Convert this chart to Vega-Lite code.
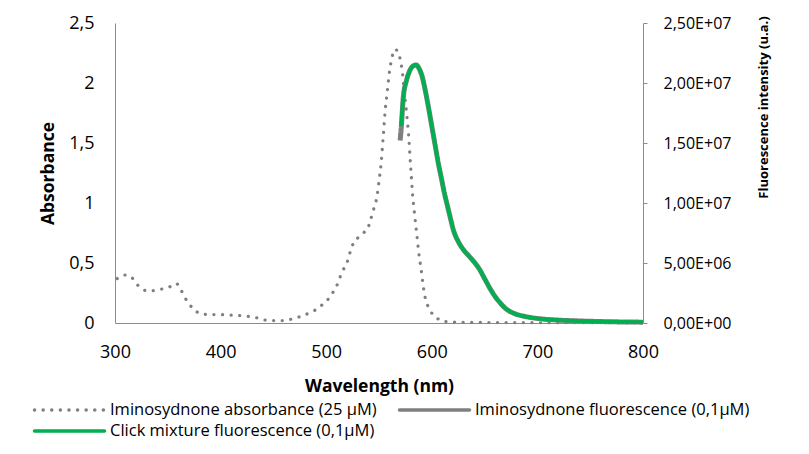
{
  "$schema": "https://vega.github.io/schema/vega-lite/v6.json",
  "width": 528,
  "height": 300,
  "autosize": {"type": "none"},
  "padding": {"left": 115, "top": 23, "right": 166, "bottom": 131},
  "background": "white",
  "config": {
    "view": {"stroke": null},
    "font": "Open Sans",
    "axis": {"grid": false, "domainColor": "#8c8c8c", "labelColor": "#000000", "titleColor": "#000000", "labelFont": "Open Sans", "titleFont": "Open Sans"},
    "legend": {"labelFont": "Open Sans", "labelColor": "#000000"}
  },
  "datasets": {
    "abs": [
      {"series": "Iminosydnone absorbance (25 µM)", "wl": 302, "v": 0.37},
      {"series": "Iminosydnone absorbance (25 µM)", "wl": 306, "v": 0.39},
      {"series": "Iminosydnone absorbance (25 µM)", "wl": 310, "v": 0.40},
      {"series": "Iminosydnone absorbance (25 µM)", "wl": 314, "v": 0.39},
      {"series": "Iminosydnone absorbance (25 µM)", "wl": 318, "v": 0.36},
      {"series": "Iminosydnone absorbance (25 µM)", "wl": 322, "v": 0.31},
      {"series": "Iminosydnone absorbance (25 µM)", "wl": 326, "v": 0.28},
      {"series": "Iminosydnone absorbance (25 µM)", "wl": 330, "v": 0.27},
      {"series": "Iminosydnone absorbance (25 µM)", "wl": 336, "v": 0.27},
      {"series": "Iminosydnone absorbance (25 µM)", "wl": 342, "v": 0.28},
      {"series": "Iminosydnone absorbance (25 µM)", "wl": 348, "v": 0.29},
      {"series": "Iminosydnone absorbance (25 µM)", "wl": 354, "v": 0.31},
      {"series": "Iminosydnone absorbance (25 µM)", "wl": 358, "v": 0.33},
      {"series": "Iminosydnone absorbance (25 µM)", "wl": 361, "v": 0.30},
      {"series": "Iminosydnone absorbance (25 µM)", "wl": 364, "v": 0.25},
      {"series": "Iminosydnone absorbance (25 µM)", "wl": 367, "v": 0.20},
      {"series": "Iminosydnone absorbance (25 µM)", "wl": 370, "v": 0.16},
      {"series": "Iminosydnone absorbance (25 µM)", "wl": 374, "v": 0.12},
      {"series": "Iminosydnone absorbance (25 µM)", "wl": 378, "v": 0.09},
      {"series": "Iminosydnone absorbance (25 µM)", "wl": 382, "v": 0.075},
      {"series": "Iminosydnone absorbance (25 µM)", "wl": 390, "v": 0.07},
      {"series": "Iminosydnone absorbance (25 µM)", "wl": 400, "v": 0.07},
      {"series": "Iminosydnone absorbance (25 µM)", "wl": 410, "v": 0.065},
      {"series": "Iminosydnone absorbance (25 µM)", "wl": 420, "v": 0.06},
      {"series": "Iminosydnone absorbance (25 µM)", "wl": 430, "v": 0.05},
      {"series": "Iminosydnone absorbance (25 µM)", "wl": 436, "v": 0.04},
      {"series": "Iminosydnone absorbance (25 µM)", "wl": 442, "v": 0.025},
      {"series": "Iminosydnone absorbance (25 µM)", "wl": 448, "v": 0.02},
      {"series": "Iminosydnone absorbance (25 µM)", "wl": 455, "v": 0.02},
      {"series": "Iminosydnone absorbance (25 µM)", "wl": 460, "v": 0.02},
      {"series": "Iminosydnone absorbance (25 µM)", "wl": 466, "v": 0.03},
      {"series": "Iminosydnone absorbance (25 µM)", "wl": 472, "v": 0.045},
      {"series": "Iminosydnone absorbance (25 µM)", "wl": 478, "v": 0.06},
      {"series": "Iminosydnone absorbance (25 µM)", "wl": 484, "v": 0.085},
      {"series": "Iminosydnone absorbance (25 µM)", "wl": 490, "v": 0.11},
      {"series": "Iminosydnone absorbance (25 µM)", "wl": 496, "v": 0.15},
      {"series": "Iminosydnone absorbance (25 µM)", "wl": 502, "v": 0.20},
      {"series": "Iminosydnone absorbance (25 µM)", "wl": 506, "v": 0.25},
      {"series": "Iminosydnone absorbance (25 µM)", "wl": 510, "v": 0.31},
      {"series": "Iminosydnone absorbance (25 µM)", "wl": 513, "v": 0.38},
      {"series": "Iminosydnone absorbance (25 µM)", "wl": 516, "v": 0.44},
      {"series": "Iminosydnone absorbance (25 µM)", "wl": 520, "v": 0.51},
      {"series": "Iminosydnone absorbance (25 µM)", "wl": 523, "v": 0.60},
      {"series": "Iminosydnone absorbance (25 µM)", "wl": 526, "v": 0.67},
      {"series": "Iminosydnone absorbance (25 µM)", "wl": 530, "v": 0.71},
      {"series": "Iminosydnone absorbance (25 µM)", "wl": 535, "v": 0.75},
      {"series": "Iminosydnone absorbance (25 µM)", "wl": 539, "v": 0.78},
      {"series": "Iminosydnone absorbance (25 µM)", "wl": 542, "v": 0.86},
      {"series": "Iminosydnone absorbance (25 µM)", "wl": 545, "v": 0.95},
      {"series": "Iminosydnone absorbance (25 µM)", "wl": 548, "v": 1.05},
      {"series": "Iminosydnone absorbance (25 µM)", "wl": 550, "v": 1.18},
      {"series": "Iminosydnone absorbance (25 µM)", "wl": 552, "v": 1.33},
      {"series": "Iminosydnone absorbance (25 µM)", "wl": 554, "v": 1.55},
      {"series": "Iminosydnone absorbance (25 µM)", "wl": 556, "v": 1.78},
      {"series": "Iminosydnone absorbance (25 µM)", "wl": 558, "v": 1.94},
      {"series": "Iminosydnone absorbance (25 µM)", "wl": 560, "v": 2.10},
      {"series": "Iminosydnone absorbance (25 µM)", "wl": 562, "v": 2.20},
      {"series": "Iminosydnone absorbance (25 µM)", "wl": 565, "v": 2.28},
      {"series": "Iminosydnone absorbance (25 µM)", "wl": 568, "v": 2.26},
      {"series": "Iminosydnone absorbance (25 µM)", "wl": 570, "v": 2.20},
      {"series": "Iminosydnone absorbance (25 µM)", "wl": 572, "v": 2.10},
      {"series": "Iminosydnone absorbance (25 µM)", "wl": 574, "v": 1.93},
      {"series": "Iminosydnone absorbance (25 µM)", "wl": 576, "v": 1.76},
      {"series": "Iminosydnone absorbance (25 µM)", "wl": 578, "v": 1.57},
      {"series": "Iminosydnone absorbance (25 µM)", "wl": 580, "v": 1.30},
      {"series": "Iminosydnone absorbance (25 µM)", "wl": 582, "v": 1.05},
      {"series": "Iminosydnone absorbance (25 µM)", "wl": 584, "v": 0.88},
      {"series": "Iminosydnone absorbance (25 µM)", "wl": 586, "v": 0.72},
      {"series": "Iminosydnone absorbance (25 µM)", "wl": 588, "v": 0.56},
      {"series": "Iminosydnone absorbance (25 µM)", "wl": 590, "v": 0.44},
      {"series": "Iminosydnone absorbance (25 µM)", "wl": 592, "v": 0.30},
      {"series": "Iminosydnone absorbance (25 µM)", "wl": 594, "v": 0.20},
      {"series": "Iminosydnone absorbance (25 µM)", "wl": 597, "v": 0.13},
      {"series": "Iminosydnone absorbance (25 µM)", "wl": 601, "v": 0.07},
      {"series": "Iminosydnone absorbance (25 µM)", "wl": 605, "v": 0.04},
      {"series": "Iminosydnone absorbance (25 µM)", "wl": 610, "v": 0.015},
      {"series": "Iminosydnone absorbance (25 µM)", "wl": 620, "v": 0.008},
      {"series": "Iminosydnone absorbance (25 µM)", "wl": 640, "v": 0.005},
      {"series": "Iminosydnone absorbance (25 µM)", "wl": 680, "v": 0.003},
      {"series": "Iminosydnone absorbance (25 µM)", "wl": 720, "v": 0.002},
      {"series": "Iminosydnone absorbance (25 µM)", "wl": 760, "v": 0.002},
      {"series": "Iminosydnone absorbance (25 µM)", "wl": 800, "v": 0.001}
    ],
    "fluoGray": [
      {"series": "Iminosydnone fluorescence (0,1µM)", "wl": 570, "v": 15200000},
      {"series": "Iminosydnone fluorescence (0,1µM)", "wl": 571, "v": 16200000},
      {"series": "Iminosydnone fluorescence (0,1µM)", "wl": 573, "v": 18800000},
      {"series": "Iminosydnone fluorescence (0,1µM)", "wl": 576, "v": 20200000},
      {"series": "Iminosydnone fluorescence (0,1µM)", "wl": 579, "v": 21000000},
      {"series": "Iminosydnone fluorescence (0,1µM)", "wl": 582, "v": 21400000},
      {"series": "Iminosydnone fluorescence (0,1µM)", "wl": 585, "v": 21500000},
      {"series": "Iminosydnone fluorescence (0,1µM)", "wl": 588, "v": 21200000},
      {"series": "Iminosydnone fluorescence (0,1µM)", "wl": 591, "v": 20500000},
      {"series": "Iminosydnone fluorescence (0,1µM)", "wl": 594, "v": 19300000},
      {"series": "Iminosydnone fluorescence (0,1µM)", "wl": 597, "v": 17900000},
      {"series": "Iminosydnone fluorescence (0,1µM)", "wl": 600, "v": 16400000},
      {"series": "Iminosydnone fluorescence (0,1µM)", "wl": 603, "v": 14900000},
      {"series": "Iminosydnone fluorescence (0,1µM)", "wl": 606, "v": 13400000},
      {"series": "Iminosydnone fluorescence (0,1µM)", "wl": 609, "v": 12100000},
      {"series": "Iminosydnone fluorescence (0,1µM)", "wl": 612, "v": 10800000},
      {"series": "Iminosydnone fluorescence (0,1µM)", "wl": 615, "v": 9700000},
      {"series": "Iminosydnone fluorescence (0,1µM)", "wl": 618, "v": 8600000},
      {"series": "Iminosydnone fluorescence (0,1µM)", "wl": 621, "v": 7600000},
      {"series": "Iminosydnone fluorescence (0,1µM)", "wl": 625, "v": 6800000},
      {"series": "Iminosydnone fluorescence (0,1µM)", "wl": 630, "v": 6100000},
      {"series": "Iminosydnone fluorescence (0,1µM)", "wl": 635, "v": 5600000},
      {"series": "Iminosydnone fluorescence (0,1µM)", "wl": 640, "v": 5100000},
      {"series": "Iminosydnone fluorescence (0,1µM)", "wl": 645, "v": 4500000},
      {"series": "Iminosydnone fluorescence (0,1µM)", "wl": 650, "v": 3700000},
      {"series": "Iminosydnone fluorescence (0,1µM)", "wl": 655, "v": 2900000},
      {"series": "Iminosydnone fluorescence (0,1µM)", "wl": 660, "v": 2200000},
      {"series": "Iminosydnone fluorescence (0,1µM)", "wl": 665, "v": 1650000},
      {"series": "Iminosydnone fluorescence (0,1µM)", "wl": 670, "v": 1200000},
      {"series": "Iminosydnone fluorescence (0,1µM)", "wl": 678, "v": 800000},
      {"series": "Iminosydnone fluorescence (0,1µM)", "wl": 688, "v": 550000},
      {"series": "Iminosydnone fluorescence (0,1µM)", "wl": 700, "v": 380000},
      {"series": "Iminosydnone fluorescence (0,1µM)", "wl": 720, "v": 240000},
      {"series": "Iminosydnone fluorescence (0,1µM)", "wl": 740, "v": 170000},
      {"series": "Iminosydnone fluorescence (0,1µM)", "wl": 760, "v": 120000},
      {"series": "Iminosydnone fluorescence (0,1µM)", "wl": 780, "v": 90000},
      {"series": "Iminosydnone fluorescence (0,1µM)", "wl": 800, "v": 70000}
    ],
    "fluoGreen": [
      {"series": "Click mixture fluorescence (0,1µM)", "wl": 571, "v": 16400000},
      {"series": "Click mixture fluorescence (0,1µM)", "wl": 573, "v": 18800000},
      {"series": "Click mixture fluorescence (0,1µM)", "wl": 576, "v": 20200000},
      {"series": "Click mixture fluorescence (0,1µM)", "wl": 579, "v": 21000000},
      {"series": "Click mixture fluorescence (0,1µM)", "wl": 582, "v": 21400000},
      {"series": "Click mixture fluorescence (0,1µM)", "wl": 585, "v": 21500000},
      {"series": "Click mixture fluorescence (0,1µM)", "wl": 588, "v": 21200000},
      {"series": "Click mixture fluorescence (0,1µM)", "wl": 591, "v": 20500000},
      {"series": "Click mixture fluorescence (0,1µM)", "wl": 594, "v": 19300000},
      {"series": "Click mixture fluorescence (0,1µM)", "wl": 597, "v": 17900000},
      {"series": "Click mixture fluorescence (0,1µM)", "wl": 600, "v": 16400000},
      {"series": "Click mixture fluorescence (0,1µM)", "wl": 603, "v": 14900000},
      {"series": "Click mixture fluorescence (0,1µM)", "wl": 606, "v": 13400000},
      {"series": "Click mixture fluorescence (0,1µM)", "wl": 609, "v": 12100000},
      {"series": "Click mixture fluorescence (0,1µM)", "wl": 612, "v": 10800000},
      {"series": "Click mixture fluorescence (0,1µM)", "wl": 615, "v": 9700000},
      {"series": "Click mixture fluorescence (0,1µM)", "wl": 618, "v": 8600000},
      {"series": "Click mixture fluorescence (0,1µM)", "wl": 621, "v": 7600000},
      {"series": "Click mixture fluorescence (0,1µM)", "wl": 625, "v": 6800000},
      {"series": "Click mixture fluorescence (0,1µM)", "wl": 630, "v": 6100000},
      {"series": "Click mixture fluorescence (0,1µM)", "wl": 635, "v": 5600000},
      {"series": "Click mixture fluorescence (0,1µM)", "wl": 640, "v": 5100000},
      {"series": "Click mixture fluorescence (0,1µM)", "wl": 645, "v": 4500000},
      {"series": "Click mixture fluorescence (0,1µM)", "wl": 650, "v": 3700000},
      {"series": "Click mixture fluorescence (0,1µM)", "wl": 655, "v": 2900000},
      {"series": "Click mixture fluorescence (0,1µM)", "wl": 660, "v": 2200000},
      {"series": "Click mixture fluorescence (0,1µM)", "wl": 665, "v": 1650000},
      {"series": "Click mixture fluorescence (0,1µM)", "wl": 670, "v": 1200000},
      {"series": "Click mixture fluorescence (0,1µM)", "wl": 678, "v": 800000},
      {"series": "Click mixture fluorescence (0,1µM)", "wl": 688, "v": 550000},
      {"series": "Click mixture fluorescence (0,1µM)", "wl": 700, "v": 380000},
      {"series": "Click mixture fluorescence (0,1µM)", "wl": 720, "v": 240000},
      {"series": "Click mixture fluorescence (0,1µM)", "wl": 740, "v": 170000},
      {"series": "Click mixture fluorescence (0,1µM)", "wl": 760, "v": 120000},
      {"series": "Click mixture fluorescence (0,1µM)", "wl": 780, "v": 90000},
      {"series": "Click mixture fluorescence (0,1µM)", "wl": 800, "v": 70000}
    ]
  },
  "encoding": {
    "x": {
      "field": "wl", "type": "quantitative",
      "scale": {"domain": [300, 800], "nice": false, "zero": false},
      "axis": {
        "title": "Wavelength (nm)", "values": [300, 400, 500, 600, 700, 800], "labelFlush": false,
        "ticks": false, "tickSize": 0, "labelPadding": 20, "labelFontSize": 18,
        "titleFontSize": 17.5, "titleFontWeight": "bold", "titleX": 264, "titleY": 63, "titleBaseline": "middle"
      }
    },
    "color": {
      "field": "series", "type": "nominal",
      "scale": {
        "domain": ["Iminosydnone absorbance (25 µM)", "Iminosydnone fluorescence (0,1µM)", "Click mixture fluorescence (0,1µM)"],
        "range": ["#7f7f7f", "#7f7f7f", "#00b050"]
      },
      "legend": {
        "title": null, "orient": "none", "legendX": -56, "legendY": 376.5, "direction": "horizontal", "columns": 2,
        "columnPadding": 15, "rowPadding": 2, "symbolType": "M-4,0H4", "symbolSize": 306, "symbolStrokeWidth": 3.5,
        "labelFontSize": 16.5, "labelOffset": 30, "labelLimit": 400,
        "encode": {"symbols": {"update": {"strokeCap": {"value": "round"}}}}
      }
    },
    "strokeDash": {
      "field": "series", "type": "nominal",
      "scale": {
        "domain": ["Iminosydnone absorbance (25 µM)", "Iminosydnone fluorescence (0,1µM)", "Click mixture fluorescence (0,1µM)"],
        "range": [[0.1, 8.5], [1, 0], [1, 0]]
      },
      "legend": null
    }
  },
  "layer": [
    {
      "data": {"name": "abs"},
      "mark": {"type": "line", "interpolate": "monotone", "strokeWidth": 3.2, "strokeCap": "round"},
      "encoding": {
        "y": {
          "field": "v", "type": "quantitative",
          "scale": {"domain": [0, 2.5], "nice": false},
          "axis": {
            "orient": "left", "title": "Absorbance", "values": [0, 0.5, 1, 1.5, 2, 2.5],
            "labelExpr": "replace(toString(datum.value), '.', ',')",
            "ticks": false, "tickSize": 0, "labelPadding": 21, "labelFontSize": 18,
            "titleFontSize": 17.5, "titleFontWeight": "bold", "titleAngle": 270, "titleX": -67, "titleY": 150,
            "titleBaseline": "middle", "titleAlign": "center"
          }
        }
      }
    },
    {
      "layer": [
        {
          "data": {"name": "fluoGray"},
          "mark": {"type": "line", "interpolate": "monotone", "strokeWidth": 5},
          "encoding": {
            "y": {
              "field": "v", "type": "quantitative",
              "scale": {"domain": [0, 25000000], "nice": false},
              "axis": {
                "orient": "right", "title": "Fluorescence intensity (u.a.)",
                "values": [0, 5000000, 10000000, 15000000, 20000000, 25000000],
                "labelExpr": "replace(replace(format(datum.value, '.2e'), '.', ','), 'e+', 'E+0')",
                "ticks": true, "tickSize": 4, "tickColor": "#8c8c8c", "labelPadding": 16, "labelFontSize": 16,
                "titleFontSize": 13, "titleFontWeight": "bold", "titleAngle": 270, "titleX": 120, "titleY": 84,
                "titleBaseline": "middle", "titleAlign": "center"
              }
            }
          }
        },
        {
          "data": {"name": "fluoGreen"},
          "mark": {"type": "line", "interpolate": "monotone", "strokeWidth": 3.8},
          "encoding": {
            "y": {"field": "v", "type": "quantitative"}
          }
        }
      ]
    }
  ],
  "resolve": {"scale": {"y": "independent"}}
}
